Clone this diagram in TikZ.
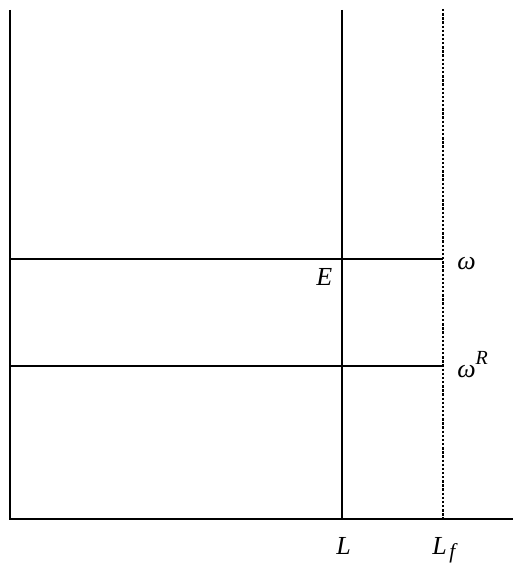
\documentclass[tikz,border=0pt]{standalone}
\usepackage{fontspec}
\setmainfont{Liberation Serif}
\usetikzlibrary{positioning}

\begin{document}
\begin{tikzpicture}[
      x={(0.75pt,0)}, y={(0,-0.75pt)},
      font=\fontsize{19.5}{23}\selectfont\itshape,
      axis/.style={line width=1.4pt, draw=black},
      lvl/.style={line width=1.2pt, draw=black},
      bound/.style={line width=1.4pt, draw=black, dash pattern=on 1.8pt off 1.3pt},
      lbl/.style={inner sep=0pt, anchor=base west}
    ]
    \useasboundingbox (0,0) rectangle (513,563);
    % axes
    \coordinate (O)  at (10,519);
    \coordinate (yT) at (10,10);
    \coordinate (xR) at (513,519);
    \draw[axis] (yT) -- (O) -- (xR);

    % labour supply lines
    \coordinate (Lt) at (342,10);
    \coordinate (Lb) at (342,519);
    \coordinate (Ft) at (443,9);
    \coordinate (Fb) at (443,519);
    \draw[lvl] (Lt) -- (Lb);
    \draw[bound] (Ft) -- (Fb);

    % wage levels
    \coordinate (w0) at (10,259);
    \coordinate (w1) at (443,259);
    \coordinate (r0) at (10,366);
    \coordinate (r1) at (443,366);
    \draw[lvl] (w0) -- (w1);
    \draw[lvl] (r0) -- (r1);

    % labels
    \node[lbl] (E)  at (316,285) {E};
    \node[lbl] (w)  at (457,269) {ω};
    \node[lbl] (wR) at (457,377) {ω\raisebox{0.5em}{\fontsize{15}{17}\selectfont R}};
    \node[lbl] (L)  at (336,554) {L};
    \node[lbl] (Lf) at (432,554) {L\hspace{0.1em}\raisebox{-0.18em}{\fontsize{16}{18}\selectfont f}};
\end{tikzpicture}
\end{document}
